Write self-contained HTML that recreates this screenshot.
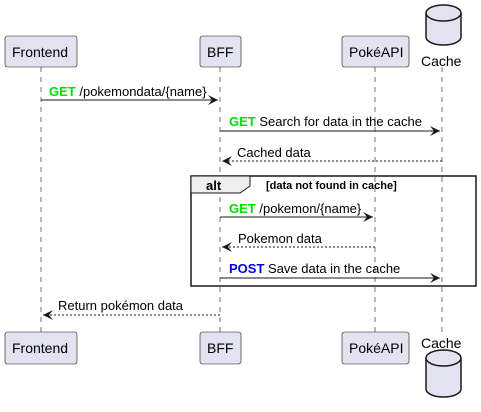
<!DOCTYPE html>
<html><head><meta charset="utf-8"><style>html,body{margin:0;padding:0;background:#fff}svg{display:block}</style></head><body>
<svg width="481" height="412" xmlns="http://www.w3.org/2000/svg" font-family="Liberation Sans, sans-serif" font-size="13">
<defs>
<marker id="a" markerWidth="12" markerHeight="10" refX="10" refY="5" orient="auto" markerUnits="userSpaceOnUse"><path d="M0,0 L10,5 L0,10 L4,5 Z" fill="#181818"/></marker>
</defs>
<g stroke="#181818" stroke-width="0.6" stroke-dasharray="5,5">
<line x1="41" y1="67" x2="41" y2="332"/><line x1="220" y1="67" x2="220" y2="332"/>
<line x1="375" y1="67" x2="375" y2="332"/><line x1="442" y1="67" x2="442" y2="332"/>
</g>
<g fill="#E2E2F0" stroke="#181818" stroke-width="0.6">
<rect x="5" y="36" width="72" height="31" rx="2.5"/><rect x="200" y="36" width="41" height="31" rx="2.5"/><rect x="342" y="36" width="67" height="31" rx="2.5"/>
<rect x="5" y="332" width="72" height="32" rx="2.5"/><rect x="200" y="332" width="41" height="32" rx="2.5"/><rect x="342" y="332" width="67" height="32" rx="2.5"/>
</g>
<g fill="#E2E2F0" stroke="#181818" stroke-width="1.5">
<path d="M426,13 A17.5,8 0 0 1 461,13 L461,37 A17.5,8 0 0 1 426,37 Z"/><path d="M426,13 A17.5,8 0 0 0 461,13"/>
<path d="M426,358 A17.5,8 0 0 1 461,358 L461,389 A17.5,8 0 0 1 426,389 Z"/><path d="M426,358 A17.5,8 0 0 0 461,358"/>
</g>
<g fill="#000" font-size="14">
<text x="12" y="57">Frontend</text><text x="207" y="57">BFF</text><text x="349" y="57">PokéAPI</text><text x="421" y="66">Cache</text>
<text x="12" y="353">Frontend</text><text x="207" y="353">BFF</text><text x="349" y="353">PokéAPI</text><text x="421" y="348">Cache</text>
</g>
<rect x="191" y="176" width="285" height="110" fill="none" stroke="#181818" stroke-width="1.5"/>
<path d="M191,176 L250,176 L250,186 L240,193 L191,193 Z" fill="#EEEEEE" stroke="#181818" stroke-width="1"/>
<text x="206" y="190" font-weight="bold">alt</text>
<text x="266" y="189" font-weight="bold" font-size="11">[data not found in cache]</text>
<g stroke="#181818" stroke-width="1" fill="none">
<line x1="41" y1="100" x2="218" y2="100" marker-end="url(#a)"/>
<line x1="220" y1="131" x2="440" y2="131" marker-end="url(#a)"/>
<line x1="442" y1="161" x2="222" y2="161" stroke-dasharray="2,2" marker-end="url(#a)"/>
<line x1="220" y1="217" x2="373" y2="217" marker-end="url(#a)"/>
<line x1="375" y1="247" x2="222" y2="247" stroke-dasharray="2,2" marker-end="url(#a)"/>
<line x1="220" y1="278" x2="440" y2="278" marker-end="url(#a)"/>
<line x1="220" y1="315" x2="43" y2="315" stroke-dasharray="2,2" marker-end="url(#a)"/>
</g>
<g font-size="13" fill="#000">
<text x="49" y="96"><tspan fill="#00E000" font-weight="bold">GET</tspan> /pokemondata/{name}</text>
<text x="229" y="126"><tspan fill="#00E000" font-weight="bold">GET</tspan> Search for data in the cache</text>
<text x="237" y="157">Cached data</text>
<text x="229" y="213"><tspan fill="#00E000" font-weight="bold">GET</tspan> /pokemon/{name}</text>
<text x="238" y="243">Pokemon data</text>
<text x="229" y="273"><tspan fill="#0000E0" font-weight="bold">POST</tspan> Save data in the cache</text>
<text x="58" y="310">Return pokémon data</text>
</g>
</svg>
</body></html>
